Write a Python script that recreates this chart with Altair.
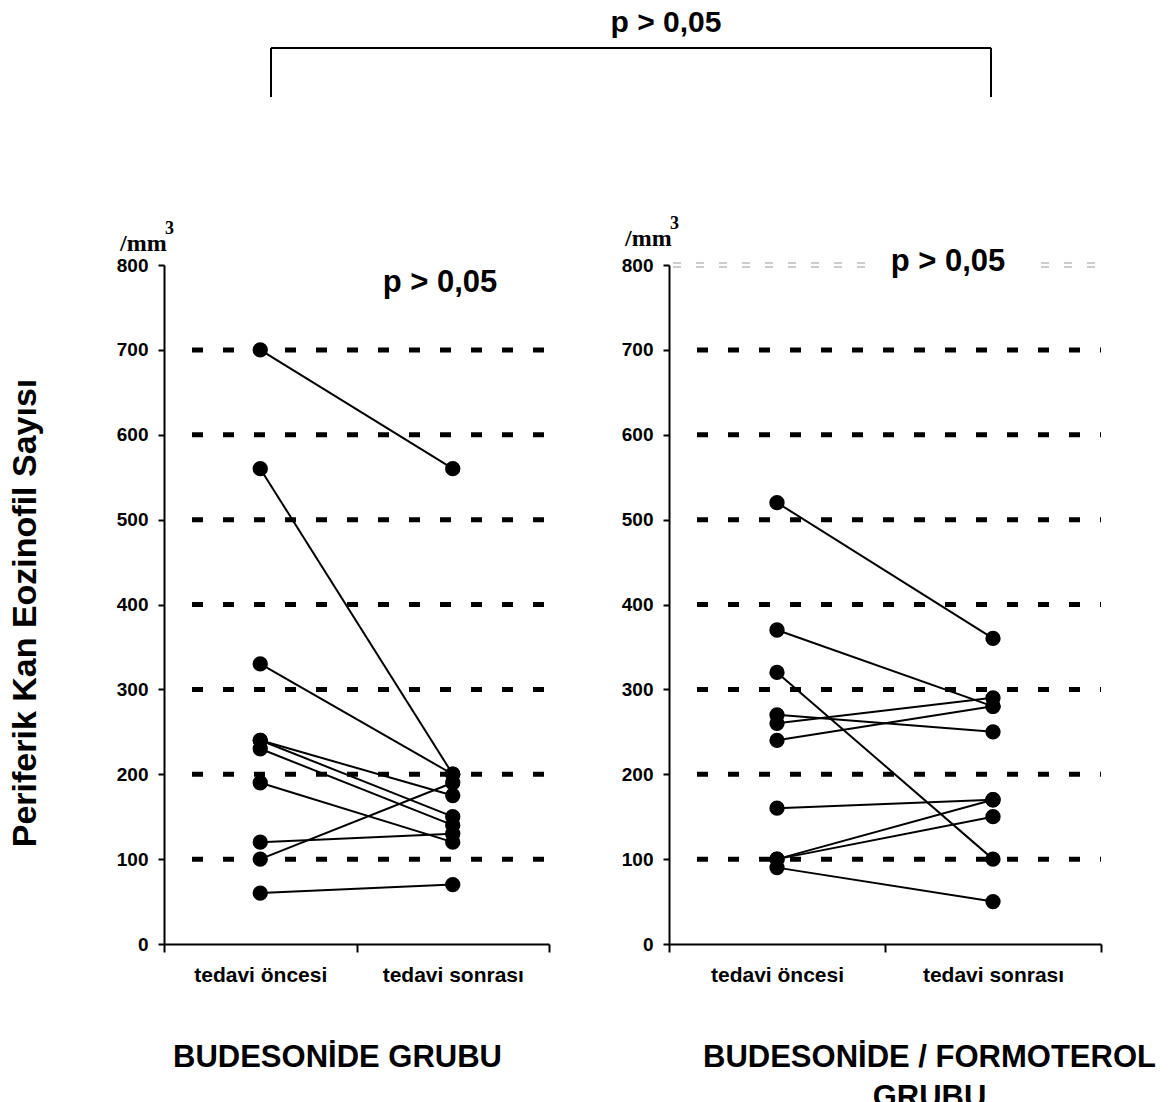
import altair as alt
import pandas as pd

# ---- data ----
phases = ["tedavi öncesi", "tedavi sonrası"]

left_before = [700, 560, 330, 240, 240, 230, 190, 120, 100, 60]
left_after = [560, 200, 200, 175, 150, 140, 120, 130, 190, 70]

right_before = [520, 370, 320, 270, 260, 240, 160, 100, 100, 90]
right_after = [360, 280, 100, 250, 290, 280, 170, 170, 150, 50]

grid_values = [100, 200, 300, 400, 500, 600, 700]
top_grid_value = [800]
y_ticks = [0, 100, 200, 300, 400, 500, 600, 700, 800]

left_title = "BUDESONİDE GRUBU"
right_title = ["BUDESONİDE / FORMOTEROL", "GRUBU"]
y_title = "Periferik Kan Eozinofil Sayısı"
p_text = "p > 0,05"
unit_text = "/mm"
unit_sup = "3"

FONT = "Liberation Sans"
H = 679


def long_df(before, after):
    rows = []
    for i, (b, a) in enumerate(zip(before, after)):
        rows.append({"subject": i, "phase": phases[0], "value": b})
        rows.append({"subject": i, "phase": phases[1], "value": a})
    return pd.DataFrame(rows)


one = pd.DataFrame({"k": [0]})


def panel(df, width, xtitle, title_x, ytitle, ytitle_x, show_top_gray):
    x_enc = alt.X(
        "phase:N",
        sort=phases,
        scale=alt.Scale(type="band", paddingInner=0, paddingOuter=0),
        axis=alt.Axis(
            title=xtitle,
            labelAngle=0,
            tickBand="extent",
            tickSize=8,
            tickWidth=2,
            tickColor="black",
            domainColor="black",
            domainWidth=2,
            labelFont=FONT,
            labelFontWeight="bold",
            labelFontSize=21,
            labelColor="black",
            labelPadding=12,
            titleFont=FONT,
            titleFontWeight="bold",
            titleFontSize=31,
            titleColor="black",
            titleX=title_x,
            titleY=122,
            titleAlign="center",
            titleBaseline="alphabetic",
            titleLineHeight=40,
        ),
    )
    y_enc = alt.Y(
        "value:Q",
        scale=alt.Scale(domain=[0, 800], nice=False),
        axis=alt.Axis(
            values=y_ticks,
            title=ytitle,
            grid=False,
            tickSize=6,
            tickWidth=2,
            tickColor="black",
            domainColor="black",
            domainWidth=2,
            labelFont=FONT,
            labelFontWeight="bold",
            labelFontSize=19,
            labelColor="black",
            labelPadding=10,
            titleFont=FONT,
            titleFontWeight="bold",
            titleFontSize=34,
            titleColor="black",
            titleAngle=-90,
            titleX=ytitle_x,
            titleY=H / 2 + 8,
            titleAlign="center",
            titleBaseline="middle",
        ),
    )

    grid = alt.Chart(pd.DataFrame({"g": grid_values})).mark_rule(
        color="black", strokeWidth=5, strokeDash=[11, 20]
    ).encode(y=alt.Y("g:Q", scale=alt.Scale(domain=[0, 800], nice=False)),
             x=alt.value(28), x2=alt.value(width))

    base = alt.Chart(df)
    lines = base.mark_line(color="black", strokeWidth=2).encode(
        x=x_enc, y=y_enc, detail="subject:N"
    )
    points = base.mark_point(filled=True, color="black", size=235, opacity=1).encode(
        x=alt.X("phase:N", sort=phases), y="value:Q"
    )
    layers = [grid, lines, points]

    if show_top_gray:
        for off in (-2, 2):
            layers.append(
                alt.Chart(pd.DataFrame({"g": top_grid_value})).mark_rule(
                    color="#9a9a9a", strokeWidth=1, strokeDash=[8, 15], yOffset=off
                ).encode(y="g:Q", x=alt.value(4), x2=alt.value(width))
            )
    return layers


left_layers = panel(long_df(left_before, left_after), 385, left_title, 173,
                    y_title, -139, False)
right_layers = panel(long_df(right_before, right_after), 432, right_title, 260,
                     "", 0, True)

txt = dict(font=FONT, fontWeight="bold", fontSize=31, color="black",
           align="center", baseline="middle")
unit = dict(font="Liberation Serif", fontWeight="bold", fontSize=24, color="black",
            align="left", baseline="middle")
sup = dict(font="Liberation Serif", fontWeight="bold", fontSize=18, color="black",
           align="left", baseline="middle")

# left panel annotations
left_layers += [
    alt.Chart(one).mark_text(text=p_text, **txt).encode(x=alt.value(276), y=alt.value(18)),
    alt.Chart(one).mark_text(text=unit_text, **unit).encode(x=alt.value(-44), y=alt.value(-21)),
    alt.Chart(one).mark_text(text=unit_sup, **sup).encode(x=alt.value(1), y=alt.value(-36)),
    # bracket over both groups
    alt.Chart(one).mark_rule(color="black", strokeWidth=2)
    .encode(x=alt.value(107), x2=alt.value(827), y=alt.value(-217)),
    alt.Chart(one).mark_rule(color="black", strokeWidth=2)
    .encode(x=alt.value(107), y=alt.value(-217), y2=alt.value(-168)),
    alt.Chart(one).mark_rule(color="black", strokeWidth=2)
    .encode(x=alt.value(827), y=alt.value(-217), y2=alt.value(-168)),
    alt.Chart(one).mark_text(text=p_text, font=FONT, fontWeight="bold", fontSize=30,
                             color="black", align="center", baseline="middle")
    .encode(x=alt.value(502), y=alt.value(-242)),
]

# right panel annotations
right_layers += [
    alt.Chart(one).mark_rect(color="white")
    .encode(x=alt.value(205), x2=alt.value(368), y=alt.value(-20), y2=alt.value(16)),
    alt.Chart(one).mark_text(text=p_text, **txt).encode(x=alt.value(279), y=alt.value(-3)),
    alt.Chart(one).mark_text(text=unit_text, **unit).encode(x=alt.value(-44), y=alt.value(-26)),
    alt.Chart(one).mark_text(text=unit_sup, **sup).encode(x=alt.value(1), y=alt.value(-41)),
]

left = alt.layer(*left_layers).properties(width=385, height=H)
right = alt.layer(*right_layers).properties(width=432, height=H)

chart = alt.hconcat(left, right, spacing=120, bounds="flush").properties(
    padding=0
).configure(background="white").configure_view(stroke=None)

chart.save("out.html", embed_options={"renderer": "svg", "actions": False})
